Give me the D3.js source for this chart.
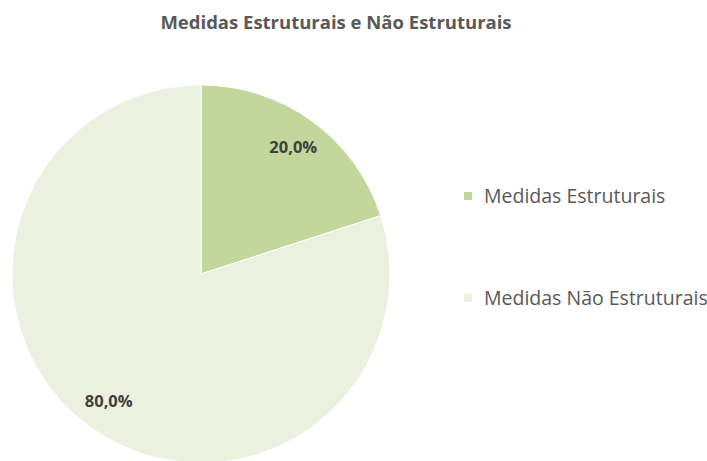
<!DOCTYPE html>
<html>
<head>
<meta charset="utf-8">
<script src="https://cdn.jsdelivr.net/npm/d3@7"></script>
<style>
  html, body { margin: 0; padding: 0; background: #fff; }
</style>
</head>
<body>
<div id="chart-container"></div>
<script>
const categories = ["Medidas Estruturais", "Medidas Não Estruturais"];
const values = [20, 80];
const labels = ["20,0%", "80,0%"];
const colors = ["#c3d69b", "#ebf1de"];

const width = 707;
const height = 461;
const cx = 201;
const cy = 274;
const radius = 189;
const labelRadius = 157;

const font = "'Open Sans', 'Noto Sans', sans-serif";

const svg = d3.select("#chart-container")
    .append("svg")
    .attr("width", width)
    .attr("height", height)
    .style("font-family", font);

svg.append("text")
    .attr("x", 336)
    .attr("y", 29)
    .attr("text-anchor", "middle")
    .attr("fill", "#595959")
    .style("font-size", "18.5px")
    .style("font-weight", "bold")
    .text("Medidas Estruturais e Não Estruturais");

const pie = d3.pie()
    .value(d => d.value)
    .sort(null);

const data = categories.map((c, i) => ({ category: c, value: values[i], label: labels[i], color: colors[i] }));

const arc = d3.arc()
    .innerRadius(0)
    .outerRadius(radius);

const arcLabel = d3.arc()
    .innerRadius(labelRadius)
    .outerRadius(labelRadius);

const g = svg.append("g")
    .attr("transform", `translate(${cx}, ${cy})`);

g.selectAll(".slice")
    .data(pie(data))
    .enter()
    .append("path")
    .attr("class", "slice")
    .attr("d", arc)
    .attr("fill", d => d.data.color)
    .attr("stroke", "#fff")
    .attr("stroke-width", 1);

g.selectAll(".label")
    .data(pie(data))
    .enter()
    .append("text")
    .attr("class", "label")
    .attr("transform", d => `translate(${arcLabel.centroid(d)})`)
    .attr("dy", "0.35em")
    .attr("text-anchor", "middle")
    .attr("fill", "#404040")
    .style("font-size", "16.5px")
    .style("font-weight", "bold")
    .text(d => d.data.label);

// legend
const legendY = d3.scalePoint()
    .domain(categories)
    .range([196, 298]);

const legend = svg.selectAll(".legend")
    .data(data)
    .enter()
    .append("g")
    .attr("class", "legend")
    .attr("transform", d => `translate(464, ${legendY(d.category)})`);

legend.append("rect")
    .attr("x", 0)
    .attr("y", -4)
    .attr("width", 8)
    .attr("height", 8)
    .attr("fill", d => d.color);

legend.append("text")
    .attr("x", 20)
    .attr("dy", "0.35em")
    .attr("fill", "#595959")
    .style("font-size", "19.5px")
    .text(d => d.category);
</script>
</body>
</html>
